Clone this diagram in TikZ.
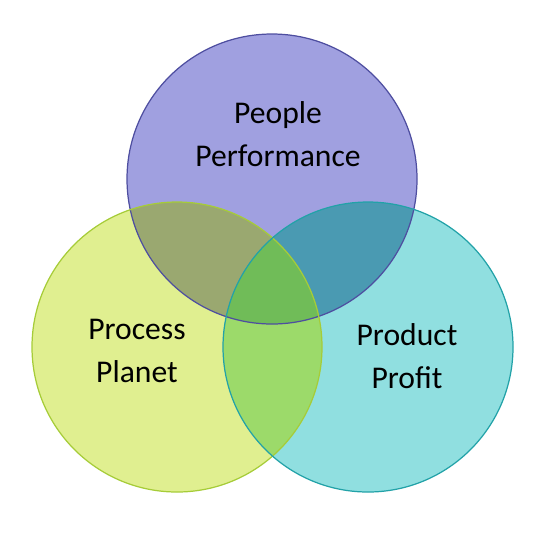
\documentclass[tikz,border=0pt]{standalone}
\usepackage{fontspec}
\setmainfont{Carlito}
\usetikzlibrary{calc}

\definecolor{peoplefill}{HTML}{A0A0E0}
\definecolor{processfill}{HTML}{E0EF90}
\definecolor{productfill}{HTML}{90DFE0}
\definecolor{peopleprocess}{HTML}{9AA870}
\definecolor{peopleproduct}{HTML}{4A9AB2}
\definecolor{processproduct}{HTML}{9CDA6A}
\definecolor{allthree}{HTML}{70BC58}
\definecolor{peopleedge}{HTML}{4E4EA0}
\definecolor{processedge}{HTML}{A6CC38}
\definecolor{productedge}{HTML}{22A2A8}

\begin{document}
\begin{tikzpicture}[x=0.02cm,y=-0.02cm,
	label text/.style={align=center,font=\fontsize{18}{24.5}\selectfont,text=black}]
	\useasboundingbox (0,0) rectangle (540,532);
	\def\rad{145}
	\coordinate (people) at (272,179);
	\coordinate (process) at (177,347);
	\coordinate (product) at (368,347);
	% the three sets
	\foreach \set in {people,process,product} {
		\fill[\set fill] (\set) circle (\rad);
	}
	% pairwise overlaps
	\foreach \first/\second in {people/process, people/product, process/product} {
		\begin{scope}
			\clip (\first) circle (\rad);
			\fill[\first\second] (\second) circle (\rad);
		\end{scope}
	}
	% middle part
	\begin{scope}
		\clip (people) circle (\rad);
		\clip (process) circle (\rad);
		\fill[allthree] (product) circle (\rad);
	\end{scope}
	% outlines
	\foreach \set in {people,process,product} {
		\draw[\set edge,line width=0.7pt] (\set) circle (\rad);
	}
	\node[label text] (peopletext) at (278,134) {People\\Performance};
	\node[label text] (processtext) at (137,351) {Process\\Planet};
	\node[label text] (producttext) at (407,356) {Product\\Profit};
\end{tikzpicture}
\end{document}
